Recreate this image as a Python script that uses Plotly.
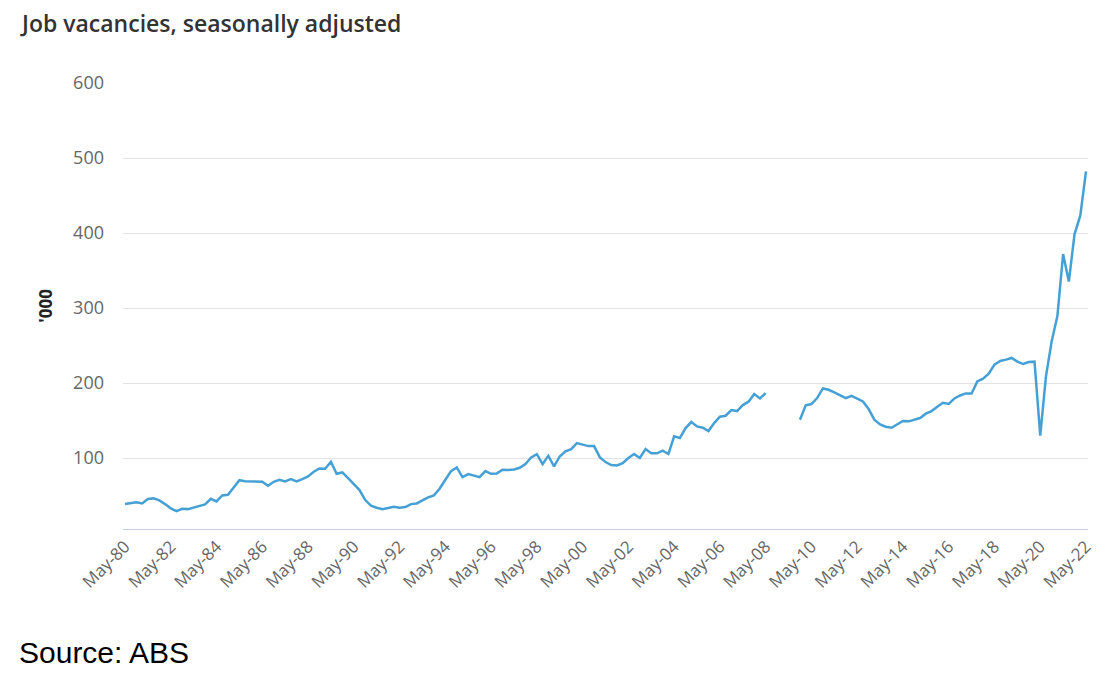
import plotly.graph_objects as go

# Quarterly labels May-80 .. May-22
months = ["Feb", "May", "Aug", "Nov"]
quarters = []
for yr in range(1980, 2023):
    for m in months:
        lab = f"{m}-{str(yr)[2:]}"
        quarters.append(lab)
start = quarters.index("May-80")
end = quarters.index("May-22")
quarters = quarters[start:end + 1]

# Job vacancies ('000), seasonally adjusted; None = survey suspended
vacancies = [
    38.7, 39.6, 41.0, 39.6, 45.4, 46.3, 43.6, 38.7, 33.0, 29.4,
    32.5, 32.0, 34.3, 35.6, 38.3, 45.8, 42.3, 50.3, 51.1, 60.9,
    70.6, 69.3, 68.9, 68.0, 68.4, 63.1, 68.4, 71.1, 68.9, 72.0,
    68.9, 72.0, 75.6, 81.8, 86.2, 85.8, 95.1, 79.1, 80.9, 73.4,
    65.0, 57.4, 44.1, 36.5, 33.9, 32.0, 33.4, 35.2, 33.9, 34.7,
    38.7, 39.6, 43.6, 47.6, 50.3, 59.1, 71.1, 82.7, 87.6, 74.7,
    78.7, 76.9, 74.7, 82.7, 79.1, 79.6, 84.5, 84.0, 84.9, 87.1,
    92.0, 100.9, 105.3, 92.0, 103.1, 88.9, 102.2, 108.9, 112.0, 120.0,
    117.7, 116.0, 116.0, 101.3, 94.7, 90.7, 90.2, 93.3, 100.2, 105.5,
    100.2, 112.1, 106.4, 106.4, 109.9, 105.5, 129.0, 126.8, 140.1, 148.1,
    142.3, 140.5, 136.1, 146.7, 155.2, 156.5, 164.1, 162.7, 170.7, 175.2,
    185.4, 179.6, 186.7, None, None, None, None, None, 151.2, 170.3,
    172.0, 180.0, 192.9, 191.1, 187.6, 184.0, 180.0, 183.1, 179.6, 175.6,
    165.4, 151.2, 145.0, 141.9, 140.5, 144.5, 149.4, 149.0, 151.6, 153.4,
    159.2, 162.7, 168.5, 173.8, 172.3, 179.5, 183.5, 186.2, 186.2, 202.2,
    205.8, 212.5, 224.6, 229.5, 231.3, 233.5, 228.6, 225.4, 228.1, 228.6,
    129.9, 208.9, 255.8, 289.3, 371.9, 335.3, 398.7, 423.2, 482.1,
]

tick_labels = [q for q in quarters if q.startswith("May-") and int(q[4:]) % 2 == 0]
y_ticks = [100, 200, 300, 400, 500, 600]

fig = go.Figure()
fig.add_trace(go.Scatter(
    x=quarters, y=vacancies, mode="lines",
    line=dict(color="#45a0d6", width=2.5),
    connectgaps=False, showlegend=False,
))

W, H = 1106, 666  # page body has an 8px margin
fig.update_layout(
    width=W, height=H,
    paper_bgcolor="white", plot_bgcolor="white",
    margin=dict(l=115, r=26, t=75, b=144.7),
    title=dict(
        text="Job vacancies, seasonally adjusted",
        xref="container", yref="container",
        x=14 / W, y=1 - 16 / H, xanchor="left", yanchor="middle",
        font=dict(family="Open Sans", size=23, color="#333333", weight=600),
    ),
    xaxis=dict(
        type="category",
        range=[-0.35, len(quarters) - 1 + 0.35],
        tickmode="array", tickvals=tick_labels, ticktext=tick_labels,
        tickangle=-45, showgrid=False,
        showline=True, linecolor="#c5cde0", linewidth=1,
        ticks="", tickfont=dict(family="Open Sans", size=17, color="#666666"),
    ),
    yaxis=dict(
        range=[5.5, 600],
        tickmode="array", tickvals=y_ticks,
        showgrid=True, gridcolor="#e3e3e3", gridwidth=1,
        zeroline=False, showline=False, ticks="",
        ticklabelstandoff=18,
        tickfont=dict(family="Open Sans", size=18, color="#666666"),
    ),
    annotations=[
        dict(text="'000", xref="paper", yref="paper",
             x=-0.081, y=0.5, xanchor="center", yanchor="middle",
             textangle=-90, showarrow=False,
             font=dict(family="Open Sans", size=17, color="#222222", weight=700)),
        dict(text="Source: ABS", xref="paper", yref="paper",
             x=-0.1095, y=-0.277, xanchor="left", yanchor="middle",
             showarrow=False,
             font=dict(family="Liberation Sans", size=30, color="#000000")),
    ],
)

fig.write_html("out.html")
